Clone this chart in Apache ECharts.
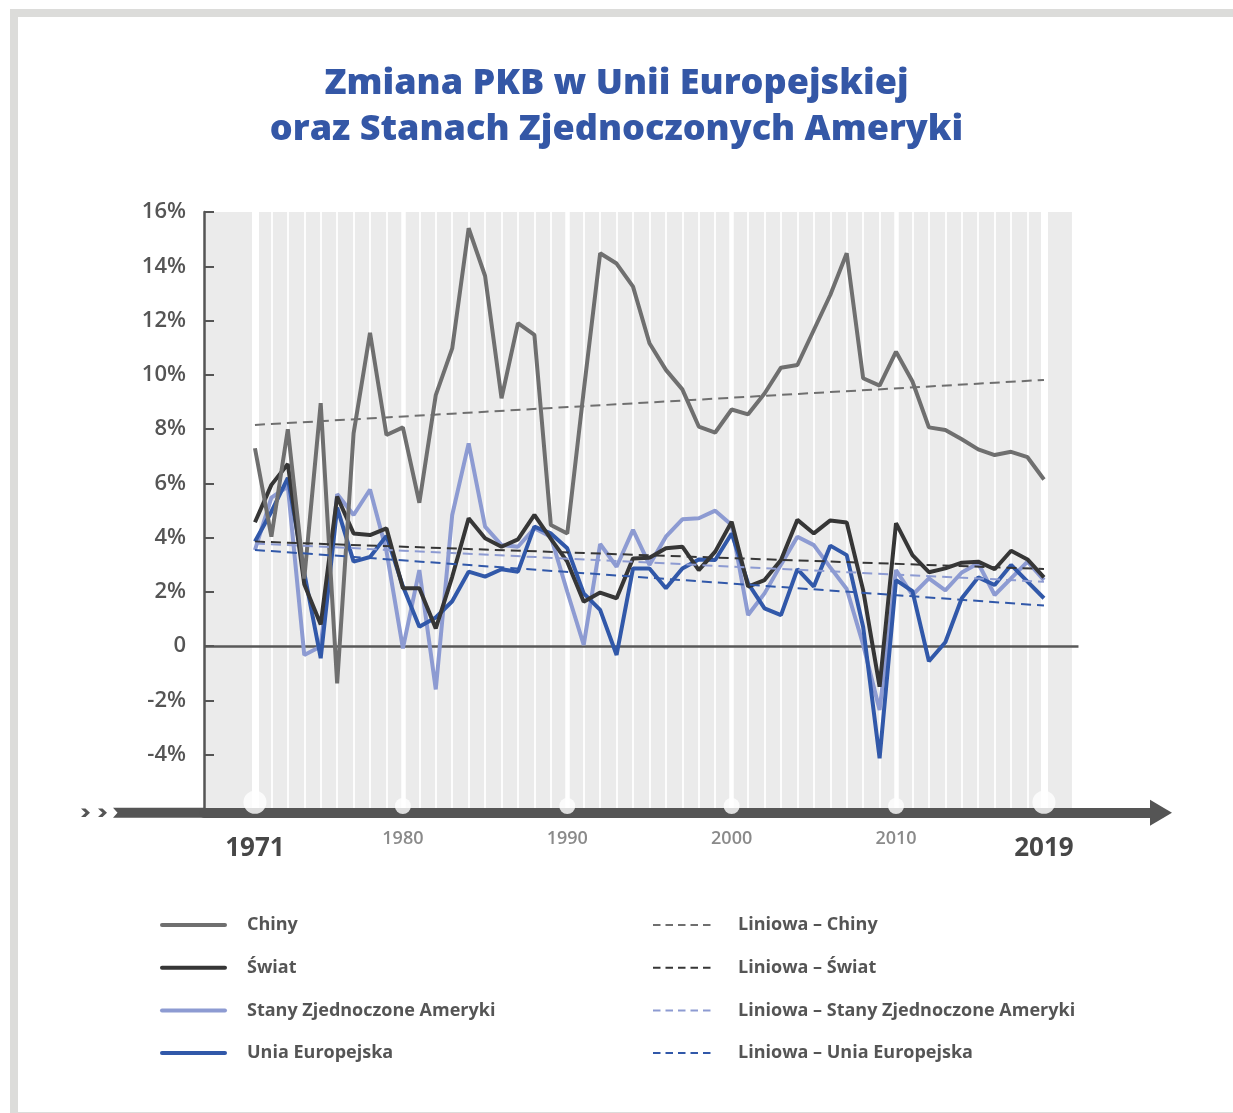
<!DOCTYPE html>
<html>
<head>
<meta charset="utf-8">
<title>Zmiana PKB</title>
<script src="https://cdn.jsdelivr.net/npm/echarts@6/dist/echarts.min.js"></script>
<style>
  html, body { margin: 0; padding: 0; background: #fff; }
  #chart { width: 1233px; height: 1113px; }
</style>
</head>
<body>
<div id="chart"></div>
<script>
// lata
var years = [1971, 1972, 1973, 1974, 1975, 1976, 1977, 1978, 1979, 1980,
  1981, 1982, 1983, 1984, 1985, 1986, 1987, 1988, 1989, 1990,
  1991, 1992, 1993, 1994, 1995, 1996, 1997, 1998, 1999, 2000,
  2001, 2002, 2003, 2004, 2005, 2006, 2007, 2008, 2009, 2010,
  2011, 2012, 2013, 2014, 2015, 2016, 2017, 2018, 2019];
var majorYears = [1971, 1980, 1990, 2000, 2010, 2019];

// zmiana PKB w %
var chiny = [7.29, 4.03, 7.99, 2.49, 8.95, -1.38, 7.84, 11.55, 7.78, 8.06,
  5.28, 9.25, 10.97, 15.4, 13.64, 9.13, 11.9, 11.47, 4.46, 4.15,
  9.4, 14.48, 14.1, 13.25, 11.16, 10.18, 9.46, 8.09, 7.87, 8.72,
  8.54, 9.31, 10.26, 10.36, 11.65, 12.94, 14.48, 9.87, 9.6, 10.85,
  9.75, 8.06, 7.96, 7.62, 7.25, 7.04, 7.16, 6.96, 6.14];
var swiat = [4.56, 5.94, 6.71, 2.28, 0.79, 5.51, 4.15, 4.09, 4.34, 2.13,
  2.13, 0.65, 2.55, 4.71, 3.97, 3.66, 3.93, 4.83, 3.95, 3.11,
  1.63, 1.97, 1.76, 3.23, 3.25, 3.6, 3.66, 2.8, 3.48, 4.58,
  2.19, 2.43, 3.17, 4.65, 4.15, 4.63, 4.55, 2.06, -1.5, 4.53,
  3.35, 2.72, 2.86, 3.07, 3.11, 2.83, 3.51, 3.19, 2.53];
var usa = [3.54, 5.47, 5.88, -0.33, -0.02, 5.6, 4.83, 5.77, 3.5, -0.09,
  2.8, -1.6, 4.83, 7.47, 4.4, 3.72, 3.66, 4.34, 4.03, 2.0,
  0.04, 3.76, 2.92, 4.28, 2.99, 4.03, 4.67, 4.71, 4.99, 4.46,
  1.14, 1.94, 3.0, 4.03, 3.72, 2.9, 2.1, 0.05, -2.36, 2.8,
  1.88, 2.49, 2.05, 2.71, 3.05, 1.88, 2.49, 3.11, 2.43];
var ue = [3.85, 4.95, 6.2, 2.7, -0.45, 5.1, 3.11, 3.28, 4.06, 2.2,
  0.71, 1.05, 1.65, 2.74, 2.56, 2.83, 2.74, 4.4, 4.15, 3.6,
  1.94, 1.33, -0.33, 2.86, 2.86, 2.13, 2.86, 3.19, 3.17, 4.15,
  2.31, 1.39, 1.14, 2.83, 2.19, 3.7, 3.35, 0.7, -4.14, 2.43,
  2.02, -0.56, 0.14, 1.76, 2.53, 2.25, 2.99, 2.37, 1.76];

// linie trendu (poczatek, koniec)
var trendYears = [1971, 2019];
var chinyTrend = [8.15, 9.81];
var swiatTrend = [3.85, 2.84];
var usaTrend = [3.78, 2.37];
var ueTrend = [3.54, 1.49];

var FONT = '"Open Sans"';
var xMin = 1967.9, xMax = 2026.12;   // zakres osi X (tlo zaczyna sie przy osi Y)
var panelEnd = 2020.7, zeroEnd = 2021.1;

function isEnd(y) { return y === 1971 || y === 2019; }

function pairs(xs, ys) {
  return xs.map(function (x, i) { return [x, ys[i]]; });
}

function solid(name, color, values) {
  return {
    name: name, type: 'line', z: 2, symbol: 'none', data: pairs(years, values),
    lineStyle: { color: color, width: 4 }, itemStyle: { color: color }
  };
}

function dashed(name, color, values) {
  return {
    name: name, type: 'line', z: 2, symbol: 'none', data: pairs(trendYears, values),
    lineStyle: { color: color, width: 2, type: [10, 6] }, itemStyle: { color: color }
  };
}

var legendText = { fontFamily: FONT, fontSize: 18, fontWeight: 'bold', color: '#555' };

var chart = echarts.init(document.getElementById('chart'));

var option = {
  backgroundColor: '#fff',
  animation: false,
  title: {
    text: 'Zmiana PKB w Unii Europejskiej\noraz Stanach Zjednoczonych Ameryki',
    left: 'center', top: 56,
    textStyle: { fontFamily: FONT, fontSize: 36, fontWeight: 800, color: '#3457a6', lineHeight: 46 }
  },
  graphic: [
    // ramka
    { type: 'rect', shape: { x: 14, y: 13, width: 1240, height: 1103 },
      style: { fill: 'none', stroke: '#dcdcda', lineWidth: 8 }, silent: true },
    // przedluzenie osi X w lewo
    { type: 'polygon', shape: { points: [[113, 807.75], [205, 807.75], [205, 817.75], [113, 817.75], [117.5, 812.75]] },
      style: { fill: '#555' }, z: 3, silent: true },
    { type: 'polygon', shape: { points: [[81, 808.5], [85.5, 808.5], [90, 812.75], [85.5, 817], [81, 817], [85.5, 812.75]] },
      style: { fill: '#555' }, z: 3, silent: true },
    { type: 'polygon', shape: { points: [[98, 808.5], [102.5, 808.5], [107, 812.75], [102.5, 817], [98, 817], [102.5, 812.75]] },
      style: { fill: '#555' }, z: 3, silent: true }
  ],
  legend: [{
    left: 160, top: 916, orient: 'vertical', selectedMode: false, padding: 0,
    itemWidth: 63, itemHeight: 20, itemGap: 24.7,
    data: ['Chiny', 'Świat', 'Stany Zjednoczone Ameryki', 'Unia Europejska'],
    lineStyle: { width: 4, cap: 'round' },
    itemStyle: { opacity: 0, borderWidth: 0 },
    textStyle: Object.assign({ padding: [0, 0, 0, 17] }, legendText)
  }, {
    left: 652, top: 916, orient: 'vertical', selectedMode: false, padding: 0,
    itemWidth: 60, itemHeight: 20, itemGap: 24.7,
    data: ['Liniowa – Chiny', 'Liniowa – Świat', 'Liniowa – Stany Zjednoczone Ameryki', 'Liniowa – Unia Europejska'],
    lineStyle: { width: 2, type: [7.5, 5] },
    itemStyle: { opacity: 0, borderWidth: 0 },
    textStyle: Object.assign({ padding: [0, 0, 0, 20] }, legendText)
  }],
  grid: { left: 204, right: 72, top: 212, bottom: 304.25 },
  xAxis: {
    type: 'value', min: xMin, max: xMax, z: 3, offset: 4,
    splitLine: { show: false },
    axisTick: { show: false },
    axisLine: {
      show: true, onZero: false, symbol: ['none', 'triangle'], symbolSize: [26, 22],
      lineStyle: { color: '#555', width: 10 }
    },
    axisLabel: {
      customValues: majorYears, margin: 17,
      formatter: function (v) {
        return isEnd(v) ? '{big|' + v + '}' : '{small|' + v + '}';
      },
      rich: {
        small: { fontFamily: FONT, fontSize: 18, fontWeight: 600, color: '#8a8a8a', lineHeight: 18 },
        big: { fontFamily: FONT, fontSize: 26, fontWeight: 'bold', color: '#474747', lineHeight: 37 }
      }
    }
  },
  yAxis: {
    type: 'value', min: -6, max: 16, interval: 2, z: 3,
    splitLine: { show: false },
    axisLine: { show: true, lineStyle: { color: '#555', width: 2.5 } },
    axisTick: { show: true, inside: true, length: 10, lineStyle: { color: '#555', width: 2 } },
    axisLabel: {
      margin: 18, fontFamily: FONT, fontSize: 22, fontWeight: 600, color: '#555',
      formatter: function (v) { return v === 0 ? '0' : (v === -6 ? '' : v + '%'); }
    }
  },
  series: [
    // tlo wykresu
    {
      type: 'line', z: 1, data: [], silent: true,
      markArea: {
        silent: true, z: 1,
        itemStyle: { color: '#ebebeb' },
        data: [[{ xAxis: xMin }, { xAxis: panelEnd }]]
      }
    },
    // linie lat
    {
      type: 'line', z: 1, data: [], silent: true,
      markLine: {
        silent: true, z: 1.2, symbol: 'none', label: { show: false },
        lineStyle: { color: '#fff', width: 1.8, type: 'solid' },
        data: years.map(function (y) { return { xAxis: y }; })
          .concat(majorYears.map(function (y) {
            return { xAxis: y, lineStyle: { color: '#fff', width: isEnd(y) ? 7 : 4.5, type: 'solid' } };
          }))
      }
    },
    // linia zera
    {
      type: 'line', z: 1, data: [], silent: true,
      markLine: {
        silent: true, z: 1.5, symbol: 'none', label: { show: false },
        lineStyle: { color: '#595959', width: 2.5, type: 'solid' },
        data: [[{ coord: [xMin, 0] }, { coord: [zeroEnd, 0] }]]
      }
    },
    // kropki na osi
    {
      type: 'scatter', z: 4, clip: false, silent: true,
      itemStyle: { color: '#fff' },
      data: majorYears.map(function (y) {
        return { value: [y, -6], symbolSize: isEnd(y) ? 23 : 16, symbolOffset: [0, isEnd(y) ? -6.5 : -2.75] };
      })
    },
    solid('Stany Zjednoczone Ameryki', '#8d9bd2', usa),
    solid('Unia Europejska', '#3158a9', ue),
    solid('Świat', '#363636', swiat),
    solid('Chiny', '#6f6f6f', chiny),
    dashed('Liniowa – Chiny', '#6f6f6f', chinyTrend),
    dashed('Liniowa – Świat', '#363636', swiatTrend),
    dashed('Liniowa – Stany Zjednoczone Ameryki', '#8d9bd2', usaTrend),
    dashed('Liniowa – Unia Europejska', '#3158a9', ueTrend)
  ]
};

chart.setOption(option);
</script>
</body>
</html>
